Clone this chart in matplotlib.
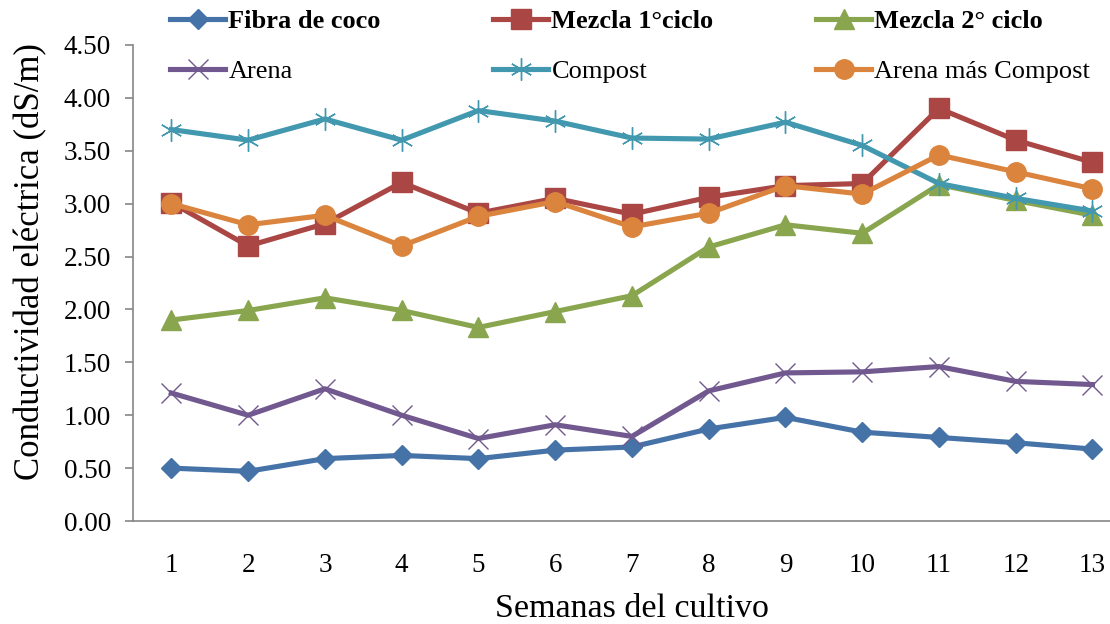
import matplotlib
matplotlib.use('Agg')
import matplotlib.pyplot as plt

# Conductividad eléctrica por semana de cultivo
semanas = list(range(1, 14))
fibra_coco = [0.50, 0.47, 0.59, 0.62, 0.59, 0.67, 0.70, 0.87, 0.98, 0.84, 0.79, 0.74, 0.68]
mezcla_1 = [3.01, 2.60, 2.81, 3.20, 2.91, 3.05, 2.90, 3.06, 3.17, 3.19, 3.90, 3.60, 3.39]
mezcla_2 = [1.90, 1.99, 2.11, 1.99, 1.83, 1.98, 2.13, 2.59, 2.80, 2.72, 3.18, 3.03, 2.89]
arena = [1.21, 1.00, 1.25, 1.00, 0.78, 0.91, 0.80, 1.23, 1.40, 1.41, 1.46, 1.32, 1.29]
compost = [3.70, 3.60, 3.80, 3.60, 3.88, 3.78, 3.62, 3.61, 3.77, 3.55, 3.19, 3.05, 2.93]
arena_compost = [3.00, 2.80, 2.89, 2.60, 2.88, 3.02, 2.78, 2.91, 3.17, 3.09, 3.46, 3.30, 3.14]

y_ticks = [0.0, 0.5, 1.0, 1.5, 2.0, 2.5, 3.0, 3.5, 4.0, 4.5]

plt.rcParams['font.family'] = ['Liberation Serif', 'DejaVu Serif']

fig = plt.figure(figsize=(11.1, 6.24), dpi=100)
ax = fig.add_axes([0.1198, 0.165, 0.899, 0.763])

lw = 3.7
l_fibra, = ax.plot(semanas, fibra_coco, color='#4572A7', lw=lw, marker='D', markersize=10,
                   label='Fibra de coco')
l_m1, = ax.plot(semanas, mezcla_1, color='#AA4643', lw=lw, marker='s', markersize=14,
                label='Mezcla 1°ciclo')
l_m2, = ax.plot(semanas, mezcla_2, color='#89A54E', lw=lw, marker='^', markersize=14,
                label='Mezcla 2° ciclo')
l_arena, = ax.plot(semanas, arena, color='#71588F', lw=lw, marker='x', markersize=14,
                   markeredgewidth=1.0, label='Arena')
l_comp, = ax.plot(semanas, compost, color='#4198AF', lw=lw, marker=(6, 2, 0), markersize=16,
                  markeredgewidth=1.0, label='Compost')
l_ac, = ax.plot(semanas, arena_compost, color='#DB843D', lw=lw, marker='o', markersize=14,
                label='Arena más Compost')

ax.set_xlim(0.5, 13.5)
ax.set_ylim(0, 4.5)
ax.set_yticks(y_ticks)
ax.set_yticklabels([f'{v:.2f}' for v in y_ticks])
ax.set_xticks(semanas)

for side in ['top', 'right']:
    ax.spines[side].set_visible(False)
for side in ['left', 'bottom']:
    ax.spines[side].set_color('#868686')
    ax.spines[side].set_linewidth(1.2)

ax.tick_params(axis='y', direction='out', length=6, width=1.2, color='#868686',
               labelsize=19.5, pad=10)
ax.tick_params(axis='x', length=0, labelsize=19.5, pad=23)

ax.set_xlabel('Semanas del cultivo', fontsize=24.5, labelpad=11)
ax.set_ylabel('Conductividad eléctrica (dS/m)', fontsize=25)
ax.yaxis.set_label_coords(-0.086, 0.544)

# legend: three columns placed side by side, top row bold
columnas = [([l_fibra, l_arena], 0.153), ([l_m1, l_comp], 0.444), ([l_m2, l_ac], 0.735)]
for handles, x0 in columnas:
    leg = fig.legend(handles=handles, labels=[h.get_label() for h in handles],
                     loc='upper left', bbox_to_anchor=(x0, 0.985), frameon=False,
                     fontsize=19, handlelength=2.1, handletextpad=0.12,
                     labelspacing=1.02, borderpad=0, borderaxespad=0)
    leg.get_texts()[0].set_fontweight('bold')

fig.savefig('out.png', dpi=100)
plt.close(fig)
